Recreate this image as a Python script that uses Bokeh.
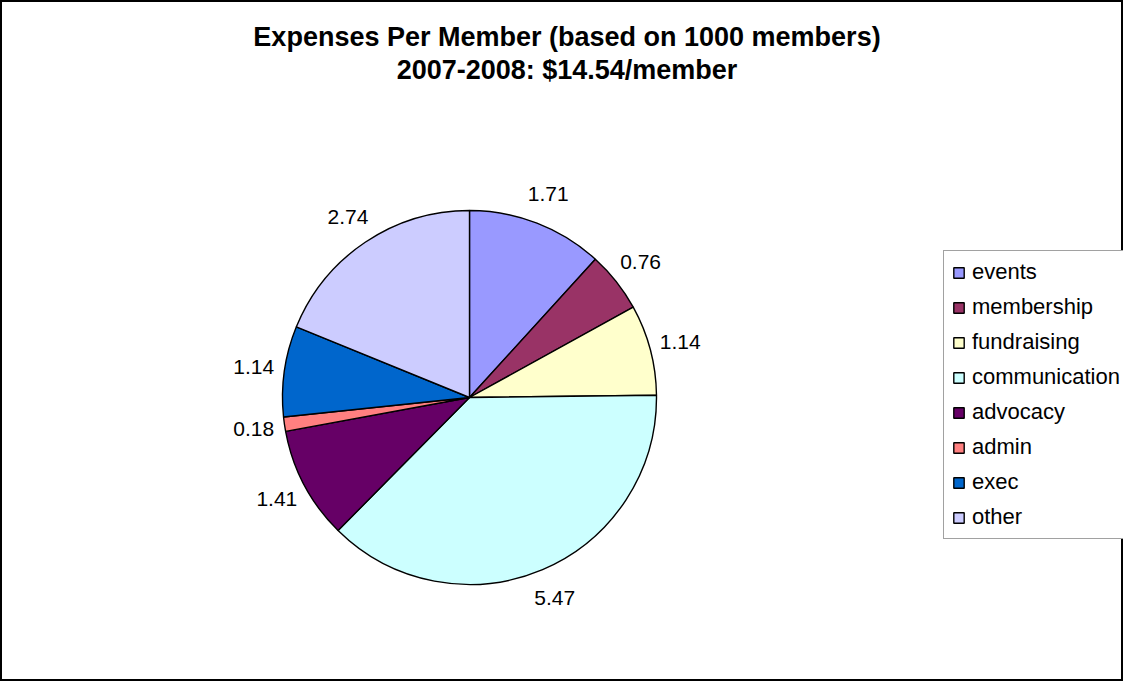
import numpy as np
from bokeh.plotting import figure
from bokeh.models import Range1d, ColumnDataSource, Legend, LegendItem
from bokeh.core.properties import value
from bokeh.embed import file_html
from bokeh.resources import INLINE

# ---- data ----
categories = ["events", "membership", "fundraising", "communication",
              "advocacy", "admin", "exec", "other"]
values = [1.71, 0.76, 1.14, 5.47, 1.41, 0.18, 1.14, 2.74]
colors = ["#9999FF", "#993366", "#FFFFCC", "#CCFFFF",
          "#660066", "#FF8080", "#0066CC", "#CCCCFF"]
title_lines = ["Expenses Per Member (based on 1000 members)",
               "2007-2008: $14.54/member"]

# ---- layout (screen px mapped 1:1 to data units) ----
W, H = 1123, 681
CX, CY = 469, 284      # pie centre
R = 187                # pie radius
LR = 218               # label radius
FONT = "Liberation Sans"

vals = np.array(values)
total = vals.sum()
cum_end = np.cumsum(vals) / total
cum_start = cum_end - vals / total
start = np.pi / 2 - 2 * np.pi * cum_end
end = np.pi / 2 - 2 * np.pi * cum_start
mid = (start + end) / 2

src = ColumnDataSource(dict(
    cat=categories, val=values, color=colors,
    start=start, end=end,
    lx=CX + LR * np.cos(mid), ly=CY + LR * np.sin(mid),
    label=[f"{v:.2f}" for v in values],
))

p = figure(width=W, height=H, x_range=Range1d(0, W), y_range=Range1d(0, H),
           output_backend="svg", toolbar_location=None, min_border=0,
           background_fill_color="white", border_fill_color="white")
p.xaxis.visible = False
p.yaxis.visible = False
p.grid.visible = False
p.outline_line_color = "black"
p.outline_line_width = 3

wr = p.wedge(x=CX, y=CY, radius=R, start_angle="start", end_angle="end",
             direction="anticlock", fill_color="color", line_color="black",
             line_width=1.4, source=src)

p.text(x="lx", y="ly", text="label", source=src, text_align="center",
       text_baseline="middle", text_font=value(FONT), text_font_size="21px",
       text_color="black")

# title (two lines)
p.text(x=[W / 2 + 5, W / 2 + 5], y=[H - 36, H - 69.5], text=title_lines,
       text_align="center", text_baseline="middle", text_font=value(FONT),
       text_font_size="27px", text_font_style="bold", text_color="black")

items = [LegendItem(label=c, renderers=[wr], index=i) for i, c in enumerate(categories)]
legend = Legend(items=items, location=(943, 142),
                label_text_font=FONT, label_text_font_size="22px",
                label_text_color="black",
                glyph_width=13, glyph_height=13, label_height=25,
                label_standoff=7, spacing=9, padding=8, margin=0,
                border_line_color="#444444", border_line_width=1.2,
                background_fill_color="white", background_fill_alpha=1)
p.add_layout(legend)

open("out.html", "w").write(file_html(p, INLINE))
